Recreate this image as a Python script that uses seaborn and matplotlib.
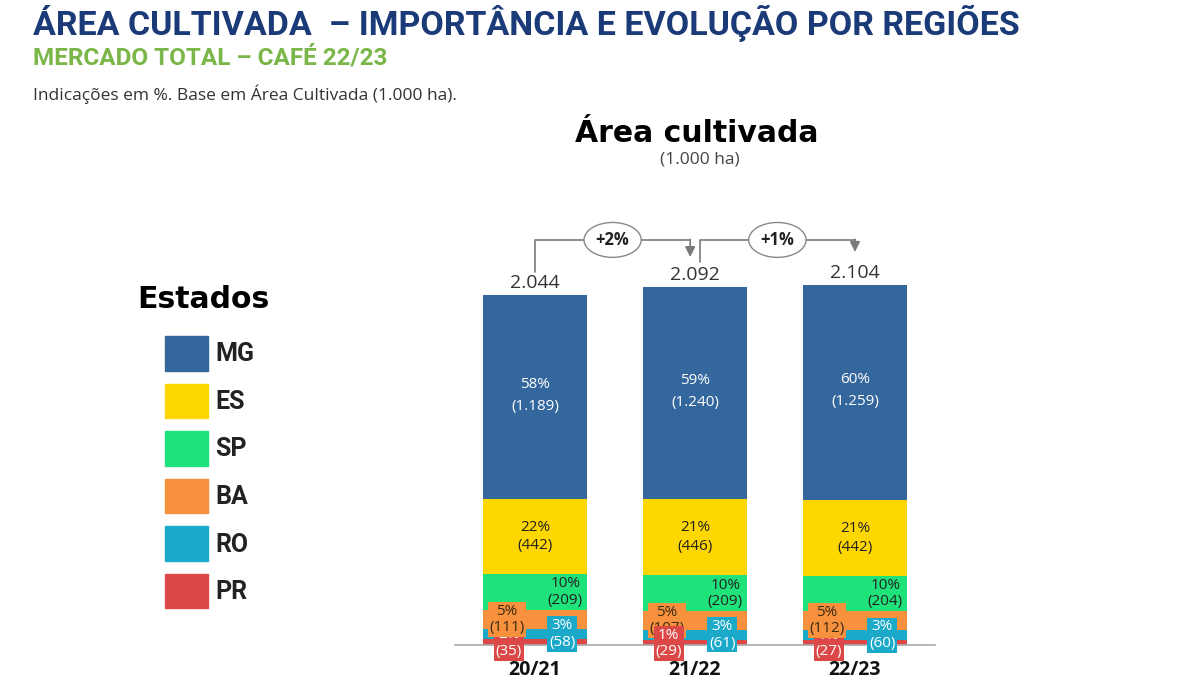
import matplotlib
matplotlib.use("Agg")
import matplotlib.pyplot as plt
from matplotlib.patches import Patch
import seaborn as sns
import pandas as pd

# ---------------- data ----------------
seasons = ["20/21", "21/22", "22/23"]
states = ["MG", "ES", "SP", "BA", "RO", "PR"]
mg = [1189, 1240, 1259]
es = [442, 446, 442]
sp = [209, 209, 204]
ba = [111, 107, 112]
ro = [58, 61, 60]
pr = [35, 29, 27]
mg_pct = [58, 59, 60]
es_pct = [22, 21, 21]
sp_pct = [10, 10, 10]
ba_pct = [5, 5, 5]
ro_pct = [3, 3, 3]
pr_pct = [2, 1, 1]
totals = [2044, 2092, 2104]
growth = ["+2%", "+1%"]

colors = {"MG": "#34679d", "ES": "#fed600", "SP": "#1fe27a",
          "BA": "#f7913d", "RO": "#1aa9c9", "PR": "#dc4848"}

values = {"MG": mg, "ES": es, "SP": sp, "BA": ba, "RO": ro, "PR": pr}

# stacking order bottom -> top
stack = ["PR", "RO", "BA", "SP", "ES", "MG"]
cum = {}
run = [0, 0, 0]
for st in stack:
    bottom = run[:]
    run = [run[i] + values[st][i] for i in range(3)]
    cum[st] = (bottom, run[:])


def fmt(v):
    return f"{v:,}".replace(",", ".")


sns.set_theme(style="white")
plt.rcParams["font.family"] = ["DejaVu Sans"]

fig = plt.figure(figsize=(12, 7), dpi=100)
ax = fig.add_axes([455 / 1200, 1 - 645 / 700, 480 / 1200, 440 / 700])

# layered cumulative bars (tallest first)
for st in reversed(stack):
    d = pd.DataFrame({"season": seasons, "top": cum[st][1]})
    sns.barplot(data=d, x="season", y="top", order=seasons, color=colors[st],
                width=0.656, saturation=1, edgecolor="none", linewidth=0, ax=ax)

ax.set_xlim(-0.5, 2.5)
ax.set_ylim(0, 2570)
ax.set_xlabel("")
ax.set_ylabel("")
ax.set_yticks([])
for side in ["left", "right", "top"]:
    ax.spines[side].set_visible(False)
ax.spines["bottom"].set_color("#aaaaaa")
ax.spines["bottom"].set_linewidth(1.2)
ax.tick_params(axis="x", length=0, pad=11)
for lab in ax.get_xticklabels():
    lab.set_fontsize(14)
    lab.set_fontweight("bold")
    lab.set_color("#111111")
    lab.set_family("Open Sans")

lab_font = dict(family="Open Sans", fontsize=11)

for i in range(3):
    # MG
    b, t = cum["MG"][0][i], cum["MG"][1][i]
    ax.text(i, (b + t) / 2 + 10, f"{mg_pct[i]}%\n({fmt(mg[i])})", ha="center", va="center",
            color="white", linespacing=1.65, **lab_font)
    # ES
    b, t = cum["ES"][0][i], cum["ES"][1][i]
    ax.text(i, (b + t) / 2, f"{es_pct[i]}%\n({fmt(es[i])})", ha="center", va="center",
            color="#222222", linespacing=1.35, **lab_font)
    # SP
    b, t = cum["SP"][0][i], cum["SP"][1][i]
    ax.text(i + 0.19, (b + t) / 2, f"{sp_pct[i]}%\n({fmt(sp[i])})", ha="center", va="center",
            color="#222222", linespacing=1.15, **lab_font)
    # BA / PR boxes with per-column overlap order
    pr_top = (i == 1)
    b, t = cum["BA"][0][i], cum["BA"][1][i]
    ax.text(i - 0.175, (b + t) / 2, f"{ba_pct[i]}%\n({fmt(ba[i])})", ha="center", va="center",
            color="#3a2a10", linespacing=1.15, zorder=6 if not pr_top else 5,
            bbox=dict(boxstyle="square,pad=0.12", fc=colors["BA"], ec="none"), **lab_font)
    b, t = cum["PR"][0][i], cum["PR"][1][i]
    ax.text(i - 0.165, (b + t) / 2 - 5, f"{pr_pct[i]}%\n({fmt(pr[i])})",
            ha="center", va="center", color="white", linespacing=1.15,
            zorder=5 if not pr_top else 6, clip_on=False,
            bbox=dict(boxstyle="square,pad=0.12", fc=colors["PR"], ec="none"), **lab_font)
    # RO
    b, t = cum["RO"][0][i], cum["RO"][1][i]
    ax.text(i + 0.17, (b + t) / 2, f"{ro_pct[i]}%\n({fmt(ro[i])})", ha="center", va="center",
            color="white", linespacing=1.15, zorder=6, clip_on=False,
            bbox=dict(boxstyle="square,pad=0.12", fc=colors["RO"], ec="none"), **lab_font)
    # totals
    ax.annotate(fmt(totals[i]), xy=(i, totals[i]), xytext=(0, 2), textcoords="offset points",
                ha="center", va="bottom", fontsize=14, color="#333333", family="Open Sans")

# growth brackets
line_c = "#7a7a7a"
bracket_y = max(totals) + 262
starts = [(0.0, totals[0] + 135), (1.03, totals[1] + 145)]
ends = [(0.97, totals[1] + 174), (2.0, totals[2] + 192)]
for k in range(2):
    (x0, y0), (x1, y1) = starts[k], ends[k]
    ax.plot([x0, x0, x1], [y0, bracket_y, bracket_y], color=line_c, lw=1.2, clip_on=False)
    ax.annotate("", xy=(x1, y1), xytext=(x1, bracket_y + 4),
                arrowprops=dict(arrowstyle="-|>,head_length=0.5,head_width=0.25",
                                color=line_c, lw=1.2, shrinkA=0, shrinkB=0),
                annotation_clip=False)
    ax.text((x0 + x1) / 2, bracket_y, growth[k], ha="center", va="center", fontsize=12,
            fontweight="bold", color="#222222", family="Open Sans", zorder=7,
            bbox=dict(boxstyle="ellipse,pad=0.2", fc="white", ec="#888888", lw=1.0))

# titles
fig.text(33 / 1200, 1 - 23 / 700, "ÁREA CULTIVADA  – IMPORTÂNCIA E EVOLUÇÃO POR REGIÕES",
         ha="left", va="center", fontsize=24.5, fontweight="bold", color="#1b3a78", family="Roboto")
fig.text(33 / 1200, 1 - 58 / 700, "MERCADO TOTAL – CAFÉ 22/23", ha="left", va="center",
         fontsize=17.5, fontweight="bold", color="#7ab648", family="Roboto")
fig.text(33 / 1200, 1 - 94 / 700, "Indicações em %. Base em Área Cultivada (1.000 ha).",
         ha="left", va="center", fontsize=12.5, color="#333333", family="Open Sans")
fig.text(697 / 1200, 1 - 133 / 700, "Área cultivada", ha="center", va="center",
         fontsize=21.5, fontweight="bold", color="black", family="DejaVu Sans")
fig.text(700 / 1200, 1 - 160 / 700, "(1.000 ha)", ha="center", va="center",
         fontsize=12.5, color="#444444", family="Open Sans")

# legend
fig.text(137 / 1200, 1 - 300 / 700, "Estados", ha="left", va="center",
         fontsize=21.5, fontweight="bold", color="black", family="DejaVu Sans")
handles = [Patch(facecolor=colors[s], edgecolor=colors[s], label=s) for s in states]
leg = fig.legend(handles=handles, loc="upper left", bbox_to_anchor=(165 / 1200, 1 - 336 / 700),
                 frameon=False, prop=dict(family="Roboto", weight="bold", size=18),
                 handlelength=1.72, handleheight=1.75, labelspacing=0.52, handletextpad=0.3,
                 borderpad=0, borderaxespad=0)
for t in leg.get_texts():
    t.set_color("#222222")

fig.savefig("out.png", dpi=100)
